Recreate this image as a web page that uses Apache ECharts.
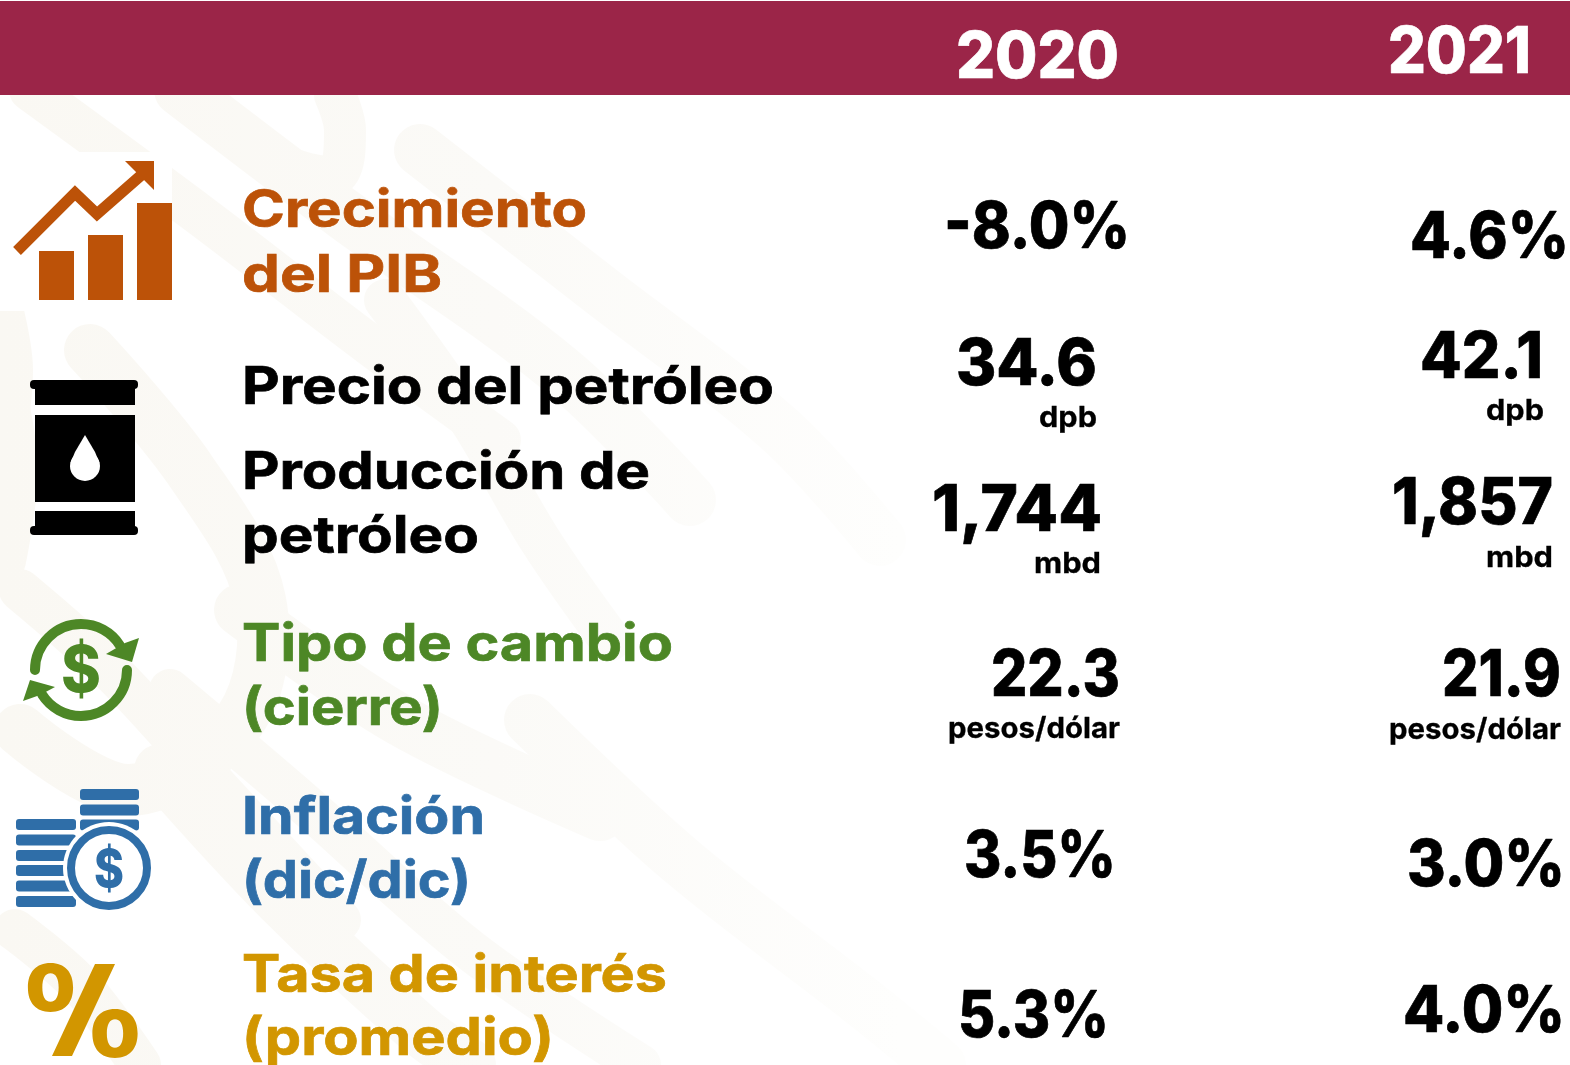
<!DOCTYPE html>
<html><head><meta charset="utf-8">
<style>html,body{margin:0;padding:0;background:#fff}#c{width:1570px;height:1065px}</style>
<script src="https://cdn.jsdelivr.net/npm/echarts@6/dist/echarts.min.js"></script>
</head><body><div id="c"></div>
<script>
// ---- data ----
var years = ['2020', '2021'];
var indicators = [['Crecimiento','del PIB'],['Precio del petróleo'],['Producción de','petróleo'],['Tipo de cambio','(cierre)'],['Inflación','(dic/dic)'],['Tasa de interés','(promedio)']];
var values2020 = ['-8.0%','34.6','1,744','22.3','3.5%','5.3%'];
var values2021 = ['4.6%','42.1','1,857','21.9','3.0%','4.0%'];
var units = ['', 'dpb', 'mbd', 'pesos/dólar', '', ''];
// ---- layout ----
var FONT = 'Inter, "Open Sans", sans-serif';
var C = {band:'#9b2548', orange:'#bc5208', black:'#000000', green:'#4d8726', blue:'#2f6ea8', gold:'#d29600'};
var labelColors = [C.orange,C.black,C.black,C.green,C.blue,C.gold];
var labelLines = [[[226,342],[291,197]],[[403,529]],[[488,405],[552,234]],[[660,428],[724,198]],[[833,240],[897,226]],[[991,422],[1054,309]]];
var val20 = [[1130,247,186],[1097,384,141],[1102,530,170],[1120,695,129],[1116,876,152],[1109,1036,151]];
var val21 = [[1569,257,159],[1543,377,123],[1553,523,161],[1561,695,119],[1565,885,158],[1565,1031,162]];
var unit20 = [null,[1097,426,58],[1101,572,67],[1120,737,172],null,null];
var unit21 = [null,[1544,419,58],[1553,566,67],[1561,738,172],null,null];

var ctx = document.createElement('canvas').getContext('2d');
function T(str, xr, yb, w, size, color, weight, align){
  var font = weight+' '+size+'px '+FONT; ctx.font = font;
  var mw = ctx.measureText(str).width, s = w/mw;
  var x = align==='right' ? xr - w : xr;
  return {type:'text', x:x, y:yb+size*0.2+0.5, scaleX:s, silent:true,
    style:{text:str, font:font, fill:color, stroke:color, lineWidth:size>40?0.7:0.3, textAlign:'left', textVerticalAlign:'bottom'}};
}
var patGrad = new echarts.graphic.LinearGradient(0,0,900,0,[{offset:0,color:'#faf8f3'},{offset:0.55,color:'#fbfaf7'},{offset:1,color:'#fefefd'}],true);
function bandLine(pts, w){
  return {type:'polyline', shape:{points:pts, smooth:0.35}, silent:true,
    style:{stroke:patGrad, lineWidth:w, fill:'none', lineCap:'round', lineJoin:'round'}};
}
function rect(x,y,w,h,color,r){return {type:'rect',shape:{x:x,y:y,width:w,height:h,r:r||0},silent:true,style:{fill:color}};}
function poly(pts,color){return {type:'polygon',shape:{points:pts},silent:true,style:{fill:color}};}
function ring(cx,cy,r,w,color,a0,a1){return {type:'arc',shape:{cx:cx,cy:cy,r:r,startAngle:a0===undefined?0:a0,endAngle:a1===undefined?Math.PI*2:a1,clockwise:true},silent:true,style:{stroke:color,lineWidth:w,fill:'none',lineCap:'round'}};}
function glyph(str,cx,yb,size,color,w,weight){var f=(weight||800)+' '+size+'px '+FONT;ctx.font=f;var mw=ctx.measureText(str).width;
  return {type:'text',x:cx-w/2,y:yb+size*0.2+0.5,scaleX:w/mw,silent:true,style:{text:str,font:f,fill:color,textAlign:'left',textVerticalAlign:'bottom'}};}

var g = [];
g.push(rect(0,0,1570,1065,'#ffffff'));
// faint background pattern
[
 [[30,90],[200,215],[370,345],[500,440]],
 [[180,90],[345,215],[560,370],[690,500]],
 [[335,95],[345,130],[335,175],[280,165]],
 [[420,150],[600,290],[780,430],[880,540]],
 [[385,300],[470,420],[540,540],[610,640]],
 [[90,350],[190,470],[260,600],[240,720],[130,790],[20,730]],
 [[20,590],[110,670],[220,790],[340,920]],
 [[240,610],[400,720],[600,815]],
 [[170,690],[300,800],[470,950],[640,1065]],
 [[160,770],[280,900],[420,1030],[470,1065]],
 [[15,930],[80,985],[140,1065]],
 [[530,720],[680,860],[860,1000],[940,1065]],
 [[0,300],[12,370],[0,470]],
 [[0,390],[12,470],[0,560]]
].forEach(function(p,i){ g.push(bandLine(p, i%2?52:42)); });

// top band
g.push(rect(0,1,1570,94,C.band));
g.push(T(years[0],956,77,163,64,'#fff',800,'left'));
g.push(T(years[1],1388,72,143,64,'#fff',800,'left'));

// labels
indicators.forEach(function(lines,i){
  lines.forEach(function(s,j){ var L=labelLines[i][j];
    g.push(T(s,242,L[0],L[1]+3,52,labelColors[i],700,'left')); });
});
// values
function col(vals,pos,upos){
  vals.forEach(function(v,i){ var p=pos[i]; g.push(T(v,p[0],p[1],p[2],64,C.black,800,'right'));
    if(upos[i]){var u=upos[i]; g.push(T(units[i],u[0],u[1],u[2],29,C.black,700,'right'));}
  });
}
col(values2020,val20,unit20); col(values2021,val21,unit21);

// icon: growth
g.push(rect(0,152,172,159,'#ffffff'));
g.push(rect(39,251,35,49,C.orange));
g.push(rect(88,235,35,65,C.orange));
g.push(rect(137,203,35,97,C.orange));
g.push({type:'polyline',shape:{points:[[17,251],[75,193],[97,214],[146,171]]},silent:true,style:{stroke:C.orange,lineWidth:11,fill:'none',lineJoin:'miter'}});
g.push(poly([[125,161],[154,161],[154,190]],C.orange));
// icon: barrel
g.push(rect(30,380,108,9,C.black,4));
g.push(rect(35,385,100,20,C.black));
g.push(rect(35,415,100,87,C.black));
g.push(rect(35,511,100,17,C.black));
g.push(rect(30,526,108,9,C.black,4));
g.push({type:'circle',shape:{cx:85,cy:466,r:15},silent:true,style:{fill:'#fff'}});
g.push(poly([[85,435],[95,452],[99.5,463],[70.5,463],[75,452]],'#fff'));
// icon: exchange
g.push(ring(81,670,46,10,C.green,Math.PI*1.0,Math.PI*1.82));
g.push(ring(81,670,46,10,C.green,Math.PI*0.0,Math.PI*0.82));
g.push(poly([[139,638],[132,662],[106,654],[125,643]],C.green));
g.push(poly([[23,701],[30,680],[55,687],[40,695]],C.green));
g.push(glyph('$',81,691,64,C.green,40,800));
// icon: coins
[819,834.5,850,865,880.5,896].forEach(function(y){g.push(rect(16,y,60,11,C.blue,3));});
[789,804.5,819.5].forEach(function(y){g.push(rect(80,y,59,11,C.blue,3));});
g.push({type:'circle',shape:{cx:109,cy:868,r:46},silent:true,style:{fill:'#fff'}});
g.push(ring(109,868,38,8,C.blue));
g.push(glyph('$',109,886,52,C.blue,30,800));
// icon: percent
g.push(glyph('0',50.5,1010,64,C.gold,50,900));
g.push(glyph('0',115,1056,64,C.gold,50,900));
g.push(poly([[95,964],[115,964],[72,1056],[52,1056]],C.gold));

var chart = echarts.init(document.getElementById('c'), null, {renderer:'canvas'});
chart.setOption({animation:false, backgroundColor:'#fff', graphic:{elements:g}});
</script></body></html>
